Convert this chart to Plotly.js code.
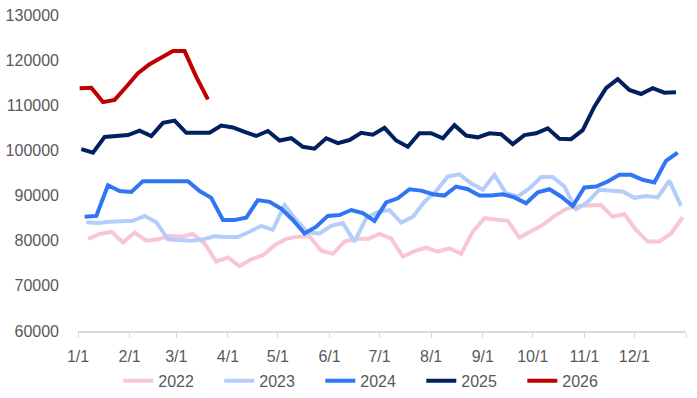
<!DOCTYPE html>
<html><head><meta charset="utf-8">
<script src="https://cdn.plot.ly/plotly-3.0.1.min.js"></script>
<style>html,body{margin:0;padding:0;background:#fff}#chart{width:697px;height:398px}</style>
</head><body><div id="chart"></div>
<script>
const seriesNames = ['2022', '2023', '2024', '2025', '2026'];
const seriesColors = ['#F8C6D6', '#B4CDFA', '#2F76F4', '#002060', '#C00000'];
const startDates = ['2022-01-07', '2023-01-06', '2024-01-05', '2025-01-03', '2026-01-02'];

const monthTickDates = ['2001-01-01','2001-02-01','2001-03-01','2001-04-01','2001-05-01','2001-06-01',
  '2001-07-01','2001-08-01','2001-09-01','2001-10-01','2001-11-01','2001-12-01','2002-01-01'];
const monthTickLabels = ['1/1','2/1','3/1','4/1','5/1','6/1','7/1','8/1','9/1','10/1','11/1','12/1',''];

const values2022 = [80400,81500,82000,79600,81800,80000,80300,81100,80900,81500,79400,75400,76300,74400,
  75900,76800,79000,80400,80900,81000,77800,77100,79800,80500,80400,81500,80500,76500,77700,78500,77600,
  78300,77100,82000,85000,84600,84400,80700,82200,83500,85500,87000,87700,87900,87900,85300,85900,82400,
  79800,79800,81600,85200];
const values2023 = [84100,83900,84200,84400,84400,85500,84100,80300,80200,80000,80300,81000,80800,80800,
  82000,83300,82400,87900,84600,81800,81600,83300,83900,79800,85000,86400,86800,84000,85300,88600,91000,
  94200,94700,92700,91300,94600,90500,89800,91600,94100,94100,92000,87000,88600,91300,91100,90900,89500,
  89900,89600,93300,87700];
const values2024 = [85300,85500,92300,91000,90800,93200,93200,93200,93200,93200,91000,89500,84600,84600,
  85100,89000,88600,87100,84600,81600,83100,85500,85700,86800,86100,84400,88500,89400,91400,91100,90300,
  90000,92000,91400,90000,90000,90300,89600,88300,90700,91400,89800,87700,91800,92000,93100,94600,94600,
  93500,92900,97700,99500];
const values2025 = [100300,99500,103000,103300,103400,104400,103200,106100,106600,103900,103900,103900,
  105500,105100,104100,103200,104300,102200,102700,100800,100400,102700,101600,102300,103900,103500,
  105000,102200,100800,103800,103800,102700,105600,103300,102900,103800,103600,101400,103400,103800,
  104900,102600,102500,104500,109700,113800,115800,113400,112500,113800,112800,112900];
const values2026 = [113800,113900,110700,111200,114100,117100,119100,120600,122000,122000,116300,111300];

const seriesValues = [values2022, values2023, values2024, values2025, values2026];

// weekly observation dates, placed on a common calendar year by month/day
function weeklyDates(start, n) {
  const [y, m, d] = start.split('-').map(Number);
  const out = [];
  for (let i = 0; i < n; i++) {
    const dt = new Date(Date.UTC(y, m - 1, d + 7 * i));
    const mm = String(dt.getUTCMonth() + 1).padStart(2, '0');
    const dd = String(dt.getUTCDate()).padStart(2, '0');
    out.push('2001-' + mm + '-' + dd);
  }
  return out;
}

const traces = seriesNames.map((name, k) => ({
  type: 'scatter', mode: 'lines', name: name,
  x: weeklyDates(startDates[k], seriesValues[k].length),
  y: seriesValues[k],
  line: {color: seriesColors[k], width: 4, shape: 'linear'},
  hoverinfo: 'x+y'
}));

const font = {family: '"Liberation Sans", Arial, sans-serif', size: 16, color: '#595959'};

const layout = {
  width: 697, height: 398,
  margin: {l: 77.5, r: 10.5, t: 15, b: 67, pad: 0},
  paper_bgcolor: '#ffffff', plot_bgcolor: '#ffffff',
  font: font,
  showlegend: true,
  xaxis: {
    type: 'date', range: ['2001-01-01', '2002-01-01'],
    tickmode: 'array', tickvals: monthTickDates, ticktext: monthTickLabels,
    ticks: 'outside', ticklen: 5, tickwidth: 1, tickcolor: '#D9D9D9',
    showline: true, linecolor: '#D9D9D9', linewidth: 1.5,
    showgrid: false, zeroline: false, tickfont: font, ticklabelstandoff: 5
  },
  yaxis: {
    range: [60000, 130000], dtick: 10000, tick0: 60000,
    showgrid: false, zeroline: false, showline: false, ticks: '',
    tickfont: font, ticklabelstandoff: 18, tickformat: 'd'
  },
  legend: {
    orientation: 'h', xref: 'container', yref: 'container',
    x: 0.532, xanchor: 'center', y: 0.043, yanchor: 'middle',
    entrywidth: 56, entrywidthmode: 'pixels',
    font: font, bgcolor: 'rgba(0,0,0,0)', traceorder: 'normal'
  }
};

Plotly.newPlot('chart', traces, layout, {displayModeBar: false, staticPlot: true});
</script>
</body></html>
